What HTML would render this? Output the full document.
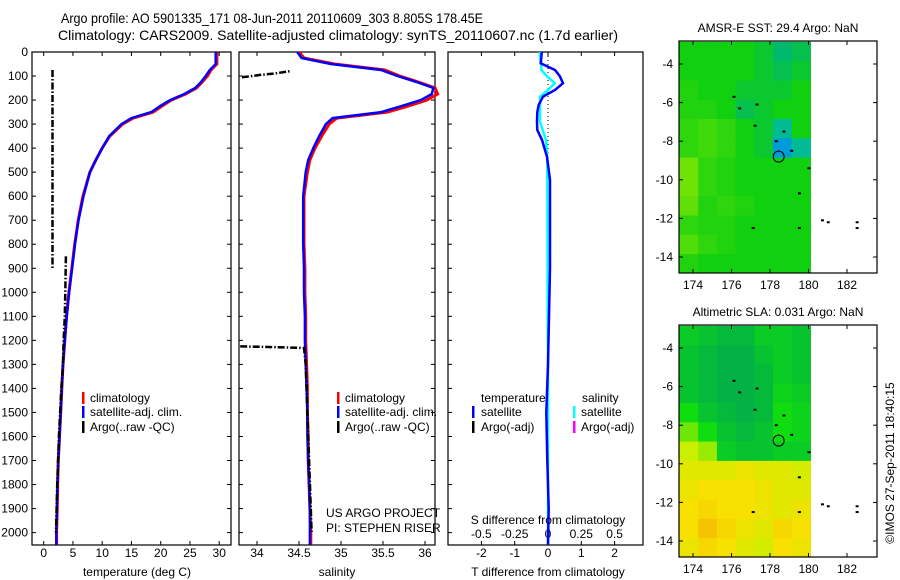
<!DOCTYPE html>
<html><head><meta charset="utf-8"><style>
body{margin:0;background:#fff;}
svg{display:block;font-family:"Liberation Sans",sans-serif;}
text{font-size:12px;fill:#000;}
</style></head><body>
<svg id="c" width="900" height="580" viewBox="0 0 900 580" xmlns="http://www.w3.org/2000/svg">
<text x="61" y="23" style="font-size:14px" textLength="422" lengthAdjust="spacingAndGlyphs">Argo profile: AO 5901335_171 08-Jun-2011 20110609_303 8.805S 178.45E</text>
<text x="58" y="40" style="font-size:14px" textLength="560" lengthAdjust="spacingAndGlyphs">Climatology: CARS2009. Satellite-adjusted climatology: synTS_20110607.nc (1.7d earlier)</text>
<g id="g"></g>
</svg>
<script>
// ---- data ----
var depthTicks=[0,100,200,300,400,500,600,700,800,900,1000,1100,1200,1300,1400,1500,1600,1700,1800,1900,2000];
var tTicks=[0,5,10,15,20,25,30];
var sTicks=[34,34.5,35,35.5,36];
var dTTicks=[-2,-1,0,1,2];
var dSTicks=[-0.5,-0.25,0,0.25,0.5];
var dSTickLabels=["-0.5","-0.25","0","0.25","0.5"];
var profDepth=[0,25,50,75,100,125,150,175,200,225,250,275,300,350,400,450,500,600,700,800,900,1000,1100,1200,1300,1400,1500,1600,1700,1800,1900,2000,2050];
var tempClim=[29.6,29.6,29.6,28.6,28.0,27.1,26.1,24.2,21.8,20.2,18.7,15.3,13.5,11.3,10.0,8.9,7.9,6.7,5.9,5.3,4.8,4.3,3.9,3.6,3.3,3.1,2.9,2.7,2.5,2.4,2.3,2.2,2.2];
var tempSat=[29.4,29.4,29.4,28.4,27.7,26.9,25.9,24.0,21.6,19.9,18.4,15.0,13.3,11.2,10.0,8.9,7.9,6.8,5.95,5.35,4.85,4.35,3.95,3.6,3.3,3.1,2.9,2.7,2.5,2.35,2.25,2.15,2.15];
var salClim=[34.5,34.56,34.92,35.52,35.7,35.92,36.12,36.15,36.02,35.8,35.55,34.95,34.86,34.77,34.69,34.63,34.6,34.56,34.56,34.56,34.57,34.57,34.58,34.58,34.59,34.6,34.6,34.61,34.61,34.62,34.63,34.64,34.64];
var salSat=[34.48,34.53,34.88,35.48,35.67,35.9,36.1,36.08,35.95,35.72,35.48,34.9,34.82,34.74,34.67,34.61,34.58,34.55,34.55,34.55,34.56,34.56,34.57,34.57,34.58,34.59,34.6,34.6,34.61,34.62,34.63,34.63,34.63];
var argoT1Depth=[75,200,400,600,800,900];
var argoT1=[1.5,1.5,1.5,1.5,1.5,1.5];
var argoT2Depth=[850,1000,1100,1200,1300,1400,1600,1800,2000];
var argoT2=[3.8,3.7,3.6,3.4,3.3,3.0,2.6,2.3,2.1];
var argoS1Depth=[105,100,95,90,80];
var argoS1=[33.82,33.95,34.05,34.2,34.39];
var argoS2Depth=[1225,1228,1232,1300,1500,1700,1900,2000];
var argoS2=[33.8,34.2,34.56,34.58,34.6,34.62,34.64,34.65];
var diffDepth=[0,25,47,75,100,130,158,186,220,250,290,325,366,436,533,700,900,1100,1300,1500,1700,1900,2050];
var dT=[-0.19,-0.2,-0.22,0.21,0.35,0.45,0.21,-0.15,-0.28,-0.32,-0.33,-0.32,-0.18,-0.03,0.06,0.06,0.06,0.03,0.0,-0.05,-0.02,0.02,0.0];
var dS=[-0.06,-0.06,-0.05,-0.05,-0.01,0.05,0.0,-0.06,-0.06,-0.06,-0.06,-0.04,-0.015,-0.005,-0.005,-0.004,-0.003,-0.002,0.0,0.0,0.0,0.0,0.0];
var lonTicks=[174,176,178,180,182];
var latTicks=[-4,-6,-8,-10,-12,-14];
var sstGrid=[
[0.5,0.5,0.5,0.5,0.55,0.65,0.6],
[0.5,0.5,0.5,0.5,0.55,0.6,0.55],
[0.45,0.5,0.5,0.55,0.55,0.55,0.5],
[0.45,0.45,0.5,0.6,0.55,0.5,0.5],
[0.4,0.35,0.4,0.5,0.55,0.7,0.5],
[0.4,0.35,0.4,0.5,0.55,0.85,0.7],
[0.2,0.4,0.45,0.5,0.5,0.5,0.5],
[0.2,0.4,0.45,0.5,0.5,0.5,0.5],
[0.25,0.45,0.4,0.45,0.5,0.5,0.5],
[0.4,0.45,0.45,0.5,0.5,0.5,0.5],
[0.3,0.4,0.45,0.5,0.5,0.5,0.5],
[0.45,0.5,0.5,0.5,0.5,0.5,0.5]];
var slaGrid=[
[0.2,0.15,0.1,0.1,0.2,0.2,0.15],
[0.15,0.1,0.05,0.05,0.15,0.2,0.15],
[0.15,0.1,0.05,0.05,0.1,0.2,0.15],
[0.15,0.1,0.05,0.05,0.1,0.25,0.2],
[0.3,0.15,0.1,0.05,0.1,0.3,0.25],
[0.4,0.3,0.15,0.1,0.15,0.3,0.25],
[0.5,0.45,0.2,0.15,0.15,0.2,0.2],
[0.6,0.6,0.6,0.65,0.6,0.6,0.55],
[0.65,0.7,0.7,0.7,0.65,0.6,0.6],
[0.7,0.75,0.7,0.7,0.65,0.6,0.65],
[0.7,0.85,0.75,0.65,0.6,0.75,0.7],
[0.65,0.75,0.7,0.6,0.55,0.7,0.65]];
var gridLon0=173.3, gridLonStep=0.971, gridLat0=-2.85, gridLatStep=1.0;
var argoLon=178.45, argoLat=-8.8;

// ---- helpers ----
var NS="http://www.w3.org/2000/svg";
var G=document.getElementById('g');
function el(tag,attrs,parent){var e=document.createElementNS(NS,tag);for(var k in attrs)e.setAttribute(k,attrs[k]);(parent||G).appendChild(e);return e;}
function txt(x,y,s,anchor,size){var t=el('text',{x:x,y:y,'text-anchor':anchor||'start'});if(size)t.style.fontSize=size+'px';t.textContent=s;return t;}
var Y0=52,Y1=545;
function yD(d){return 52+d*0.2403;}
function xT(v){return 43.7+v*5.85;}
function xS(v){return 257+(v-34)*84;}
function xDT(v){return 548+v*33.3;}
function xDS(v){return 548+v*133.2;}
function path(xs,ys,xf,stroke,w,dash,name){
  var d='';for(var i=0;i<xs.length;i++){d+=(i?'L':'M')+xf(xs[i]).toFixed(1)+','+yD(ys[i]).toFixed(1);}
  var p=el('path',{d:d,fill:'none',stroke:stroke,'stroke-width':w});
  if(dash)p.setAttribute('stroke-dasharray',dash);
  
  
  return p;
}
function frame(x0,x1,name,rightTicks){
  var r=el('rect',{x:x0,y:Y0,width:x1-x0,height:Y1-Y0,fill:'none',stroke:'#000','stroke-width':1.2});
  
  
  depthTicks.forEach(function(d){
    el('line',{x1:x0,x2:x0+4,y1:yD(d),y2:yD(d),stroke:'#000'});
    if(rightTicks)el('line',{x1:x1,x2:x1-4,y1:yD(d),y2:yD(d),stroke:'#000'});
  });
}
function xticks(ticks,labels,xf,ylab,name){
  ticks.forEach(function(v,i){
    var x=xf(v);
    el('line',{x1:x,x2:x,y1:Y0,y2:Y0+4,stroke:'#000'});
    el('line',{x1:x,x2:x,y1:Y1,y2:Y1-4,stroke:'#000'});
    var t=txt(x,ylab,labels[i],'middle');
    
    
  });
}
function legendBar(x,y,color){el('rect',{x:x,y:y,width:2.5,height:12,fill:color});}

// ---- panel 1: temperature ----
frame(32,231,'temperature-panel',true);
depthTicks.forEach(function(d){var t=txt(28,yD(d)+4,String(d),'end');
  
  });
xticks(tTicks,tTicks.map(String),xT,557,'temperature-tick-label');
path(tempClim,profDepth,xT,'#f00',3,null,'temperature-climatology-line');
path(tempSat,profDepth,xT,'#00f',2.5,null,'temperature-satellite-line');
path(argoT1,argoT1Depth,xT,'#000',2.5,'7,2,1.5,2','temperature-argo-line-1');
path(argoT2,argoT2Depth,xT,'#000',2.5,'7,2,1.5,2','temperature-argo-line-2');
legendBar(82,392,'#f00');legendBar(82,406,'#00f');legendBar(82,421,'#000');
[['climatology',402],['satellite-adj. clim.',416],['Argo(..raw -QC)',431]].forEach(function(a){
  var t=txt(90,a[1],a[0]);});
var xl1=txt(137,576,'temperature (deg C)','middle');



// ---- panel 2: salinity ----
frame(239,435,'salinity-panel',true);
xticks(sTicks,sTicks.map(String),xS,557,'salinity-tick-label');
path(salClim,profDepth,xS,'#f00',3,null,'salinity-climatology-line');
path(salSat,profDepth,xS,'#00f',2.5,null,'salinity-satellite-line');
path(argoS1,argoS1Depth,xS,'#000',2.5,'7,2,1.5,2','salinity-argo-line-1');
path(argoS2,argoS2Depth,xS,'#000',2.5,'7,2,1.5,2','salinity-argo-line-2');
legendBar(337,392,'#f00');legendBar(337,406,'#00f');legendBar(337,421,'#000');
[['climatology',402],['satellite-adj. clim.',416],['Argo(..raw -QC)',431]].forEach(function(a){
  var t=txt(345,a[1],a[0]);});
var xl2=txt(337,576,'salinity','middle');


var c1=txt(326,517,'US ARGO PROJECT');
var c2=txt(326,532,'PI: STEPHEN RISER');

// ---- panel 3: differences ----
frame(448,643,'difference-panel',false);
xticks(dTTicks,dTTicks.map(String),xDT,557,'t-difference-tick-label');
dSTicks.forEach(function(v,i){var t=txt(xDS(v),538,dSTickLabels[i],'middle');
  });
el('line',{x1:xDT(0),x2:xDT(0),y1:Y0,y2:Y1,stroke:'#000','stroke-dasharray':'1,3'});
path(dS,diffDepth,xDS,'#0ff',2.5,null,'salinity-difference-line');
path(dT,diffDepth,xDT,'#00f',2.5,null,'temperature-difference-line');
var lg=[['temperature',481,402],['salinity',582,402],['satellite',481,416],['Argo(-adj)',481,431],['satellite',581,416],['Argo(-adj)',581,431]];
lg.forEach(function(a){var t=txt(a[1],a[2],a[0]);});
legendBar(472,406,'#00f');legendBar(472,421,'#000');legendBar(573,406,'#0ff');legendBar(573,421,'#f0f');
var s1=txt(548,524,'S difference from climatology','middle');
var s2=txt(548,576,'T difference from climatology','middle');

// ---- maps ----
function lerp(a,b,t){return Math.round(a+(b-a)*t);}
function cmap(stops,v){
  for(var i=1;i<stops.length;i++){if(v<=stops[i][0]||i==stops.length-1){var a=stops[i-1],b=stops[i];var t=Math.max(0,Math.min(1,(v-a[0])/(b[0]-a[0])));
    return 'rgb('+lerp(a[1],b[1],t)+','+lerp(a[2],b[2],t)+','+lerp(a[3],b[3],t)+')';}}
}
var sstStops=[[0,176,240,0],[0.5,16,208,16],[0.65,0,184,110],[0.8,0,192,224],[1,0,48,200]];
var slaStops=[[0,0,168,80],[0.3,16,221,16],[0.5,200,240,0],[0.7,248,224,0],[1,240,168,0]];
function map(top,grid,stops,title,name){
  var x0=679,x1=877,y1=top+232;
  function mx(l){return 693+(l-174)*19.25;}
  function my(l){return top+23+(-4-l)*19.3;}
  var clipId='clip'+name;
  var cp=el('clipPath',{id:clipId});el('rect',{x:x0,y:top,width:x1-x0,height:232},cp);
  var g=el('g',{'clip-path':'url(#'+clipId+')'});
  
  
  grid.forEach(function(row,r){row.forEach(function(v,c){
    var la=gridLat0-r*gridLatStep, lo=gridLon0+c*gridLonStep;
    var cell=el('rect',{x:mx(lo).toFixed(1),y:my(la).toFixed(1),width:(gridLonStep*19.25+0.6).toFixed(1),height:(gridLatStep*19.3+0.6).toFixed(1),fill:cmap(stops,v)},g);
    
    
  });});
  var fr=el('rect',{x:x0,y:top,width:x1-x0,height:232,fill:'none',stroke:'#000','stroke-width':1.2});
  
  
  lonTicks.forEach(function(l){var x=mx(l);
    el('line',{x1:x,x2:x,y1:top,y2:top+4,stroke:'#000'});el('line',{x1:x,x2:x,y1:y1,y2:y1-4,stroke:'#000'});
    var t=txt(x,y1+16,String(l),'middle');});
  latTicks.forEach(function(l){var y=my(l);
    el('line',{x1:x0,x2:x0+4,y1:y,y2:y,stroke:'#000'});el('line',{x1:x1,x2:x1-4,y1:y,y2:y,stroke:'#000'});
    var t=txt(673,y+4,String(l),'end');});
  var c=el('circle',{cx:mx(argoLon),cy:my(argoLat),r:5.5,fill:'none',stroke:'#000','stroke-width':1});
  
  
  [[176.1,-5.7],[176.4,-6.3],[177.3,-6.1],[177.2,-7.2],[178.7,-7.5],[178.3,-8.0],[179.1,-8.5],[180.0,-9.4],[179.5,-10.7],[177.1,-12.5],[179.5,-12.5],[180.7,-12.1],[181.0,-12.2],[182.5,-12.5],[182.5,-12.2]].forEach(function(p){
    el('rect',{x:mx(p[0])-1,y:my(p[1])-1,width:3,height:2,fill:'#000'});});
  var tt=txt(778,top-9,title,'middle');
}
map(41,sstGrid,sstStops,'AMSR-E SST: 29.4 Argo: NaN','sst-map');
map(325,slaGrid,slaStops,'Altimetric SLA: 0.031 Argo: NaN','sla-map');
var cr=txt(0,0,'©IMOS 27-Sep-2011 18:40:15','middle');
cr.setAttribute('transform','translate(894,463) rotate(-90)');


</script>
</body></html>
